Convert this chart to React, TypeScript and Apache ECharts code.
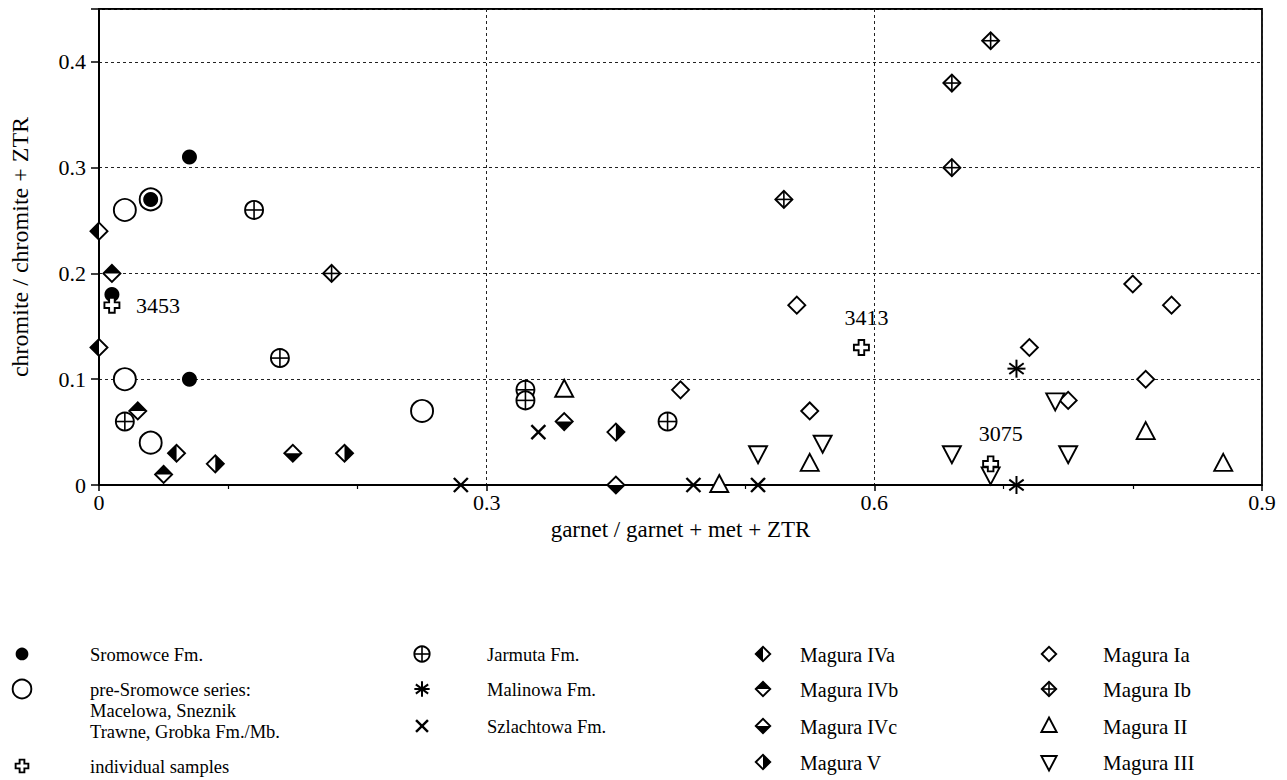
import React, { useEffect, useRef } from 'react';
import * as echarts from 'echarts';

// ---------- data (x: garnet ratio, y: chromite ratio) ----------
const sromowce = [[0.07, 0.31], [0.04, 0.27], [0.01, 0.18], [0.07, 0.10]];
const preSromowce = [[0.02, 0.26], [0.04, 0.27], [0.02, 0.10], [0.04, 0.04], [0.25, 0.07]];
const samples = [[0.01, 0.17], [0.59, 0.13], [0.69, 0.02]];
const sampleNames = ['3453', '3413', '3075'];
const jarmuta = [[0.12, 0.26], [0.14, 0.12], [0.02, 0.06], [0.33, 0.09], [0.33, 0.08], [0.44, 0.06]];
const malinowa = [[0.71, 0.11], [0.71, 0.0]];
const szlachtowa = [[0.28, 0.0], [0.34, 0.05], [0.46, 0.0], [0.51, 0.0]];
const maguraIVa = [[0.0, 0.24], [0.0, 0.13], [0.06, 0.03]];
const maguraIVb = [[0.01, 0.20], [0.03, 0.07], [0.05, 0.01]];
const maguraIVc = [[0.15, 0.03], [0.36, 0.06], [0.40, 0.0]];
const maguraV = [[0.09, 0.02], [0.19, 0.03], [0.40, 0.05]];
const maguraIa = [[0.45, 0.09], [0.54, 0.17], [0.55, 0.07], [0.72, 0.13], [0.75, 0.08], [0.80, 0.19], [0.83, 0.17], [0.81, 0.10]];
const maguraIb = [[0.69, 0.42], [0.66, 0.38], [0.66, 0.30], [0.53, 0.27], [0.18, 0.20]];
const maguraII = [[0.36, 0.09], [0.48, 0.0], [0.55, 0.02], [0.81, 0.05], [0.87, 0.02]];
const maguraIII = [[0.51, 0.03], [0.56, 0.04], [0.66, 0.03], [0.69, 0.01], [0.74, 0.08], [0.75, 0.03]];

const xTicks = { min: 0, max: 0.9, interval: 0.3 };
const yTicks = { min: 0, max: 0.45, interval: 0.1 };

// label placement of individual sample numbers (style, not data)
const sampleLabelStyle = [
  { dx: 24, dy: 0, align: 'left' },
  { dx: 5, dy: -30, align: 'center' },
  { dx: 10, dy: -30, align: 'center' },
];

const FONT = '"Liberation Serif", "Times New Roman", serif';
const LW = 1.9;

function sym(kind: string, cx: number, cy: number, k = 1): any[] {
  const white = { fill: '#fff', stroke: '#000', lineWidth: LW };
  const r = 8.5 * k;
  const dia = [[cx - r, cy], [cx, cy - r], [cx + r, cy], [cx, cy + r]];
  const ln = (x1: number, y1: number, x2: number, y2: number, w = LW) => ({
    type: 'line', shape: { x1, y1, x2, y2 }, style: { stroke: '#000', lineWidth: w },
  });
  const halfDia = (pts: number[][]) => [
    { type: 'polygon', shape: { points: dia }, style: { fill: '#fff' } },
    { type: 'polygon', shape: { points: pts }, style: { fill: '#000' } },
    { type: 'polygon', shape: { points: dia }, style: { fill: 'none', stroke: '#000', lineWidth: LW } },
  ];
  switch (kind) {
    case 'filled':
      return [{ type: 'circle', shape: { cx, cy, r: 7.5 * k }, style: { fill: '#000' } }];
    case 'open':
      return [{ type: 'circle', shape: { cx, cy, r: 11 * k }, style: white }];
    case 'cplus': {
      const R = 9 * k;
      return [
        { type: 'circle', shape: { cx, cy, r: R }, style: white },
        ln(cx - R, cy, cx + R, cy, 1.6),
        ln(cx, cy - R, cx, cy + R, 1.6),
      ];
    }
    case 'cross': {
      const a = 2.8 * k, b = 7.5 * k;
      const p = [[-a, -b], [a, -b], [a, -a], [b, -a], [b, a], [a, a], [a, b], [-a, b], [-a, a], [-b, a], [-b, -a], [-a, -a]];
      return [{ type: 'polygon', shape: { points: p.map(([x, y]) => [cx + x, cy + y]) }, style: white }];
    }
    case 'aster': {
      const R = 9 * k, dx = R * 0.8, dy = R * 0.6;
      return [
        ln(cx, cy - R, cx, cy + R, 2),
        ln(cx - R, cy, cx + R, cy, 2),
        ln(cx - dx, cy - dy, cx + dx, cy + dy, 2),
        ln(cx - dx, cy + dy, cx + dx, cy - dy, 2),
      ];
    }
    case 'x': {
      const R = 7 * k;
      return [ln(cx - R, cy - R, cx + R, cy + R, 2.4), ln(cx - R, cy + R, cx + R, cy - R, 2.4)];
    }
    case 'IVa':
      return halfDia([[cx, cy - r], [cx - r, cy], [cx, cy + r]]);
    case 'IVb':
      return halfDia([[cx - r, cy], [cx, cy - r], [cx + r, cy]]);
    case 'IVc':
      return halfDia([[cx - r, cy], [cx, cy + r], [cx + r, cy]]);
    case 'V':
      return halfDia([[cx, cy - r], [cx + r, cy], [cx, cy + r]]);
    case 'Ia':
      return [{ type: 'polygon', shape: { points: dia }, style: white }];
    case 'Ib':
      return [
        { type: 'polygon', shape: { points: dia }, style: white },
        ln(cx - r, cy, cx + r, cy, 1.6),
        ln(cx, cy - r, cx, cy + r, 1.6),
      ];
    case 'II': {
      const R = 10 * k;
      return [{ type: 'polygon', shape: { points: [[cx, cy - R], [cx + 0.9 * R, cy + 0.7 * R], [cx - 0.9 * R, cy + 0.7 * R]] }, style: white }];
    }
    case 'III': {
      const R = 10 * k;
      return [{ type: 'polygon', shape: { points: [[cx, cy + R], [cx + 0.9 * R, cy - 0.7 * R], [cx - 0.9 * R, cy - 0.7 * R]] }, style: white }];
    }
  }
  return [];
}

const seriesDefs: { name: string; kind: string; data: number[][] }[] = [
  { name: 'pre-Sromowce series', kind: 'open', data: preSromowce },
  { name: 'Sromowce Fm.', kind: 'filled', data: sromowce },
  { name: 'Jarmuta Fm.', kind: 'cplus', data: jarmuta },
  { name: 'Malinowa Fm.', kind: 'aster', data: malinowa },
  { name: 'Szlachtowa Fm.', kind: 'x', data: szlachtowa },
  { name: 'Magura IVa', kind: 'IVa', data: maguraIVa },
  { name: 'Magura IVb', kind: 'IVb', data: maguraIVb },
  { name: 'Magura IVc', kind: 'IVc', data: maguraIVc },
  { name: 'Magura V', kind: 'V', data: maguraV },
  { name: 'Magura Ia', kind: 'Ia', data: maguraIa },
  { name: 'Magura Ib', kind: 'Ib', data: maguraIb },
  { name: 'Magura II', kind: 'II', data: maguraII },
  { name: 'Magura III', kind: 'III', data: maguraIII },
];

// legend layout
const legendCols = [
  { symX: 22, textX: 90, size: 18.5, items: [
    { kind: 'filled', text: 'Sromowce Fm.', y: 655 },
    { kind: 'open', text: 'pre-Sromowce series:\nMacelowa, Sneznik\nTrawne, Grobka Fm./Mb.', y: 690 },
    { kind: 'cross', text: 'individual samples', y: 767 },
  ] },
  { symX: 422, textX: 487, size: 18.5, items: [
    { kind: 'cplus', text: 'Jarmuta Fm.', y: 655 },
    { kind: 'aster', text: 'Malinowa Fm.', y: 690 },
    { kind: 'x', text: 'Szlachtowa Fm.', y: 727 },
  ] },
  { symX: 763, textX: 800, size: 20, items: [
    { kind: 'IVa', text: 'Magura IVa', y: 655 },
    { kind: 'IVb', text: 'Magura IVb', y: 690 },
    { kind: 'IVc', text: 'Magura IVc', y: 727 },
    { kind: 'V', text: 'Magura V', y: 763 },
  ] },
  { symX: 1049, textX: 1103, size: 21, items: [
    { kind: 'Ia', text: 'Magura Ia', y: 655 },
    { kind: 'Ib', text: 'Magura Ib', y: 690 },
    { kind: 'II', text: 'Magura II', y: 727 },
    { kind: 'III', text: 'Magura III', y: 763 },
  ] },
];

function buildLegend(): any[] {
  const els: any[] = [];
  legendCols.forEach((col) => {
    col.items.forEach((it) => {
      els.push({ type: 'group', silent: true, children: sym(it.kind, col.symX, it.y - 1, 0.85) });
      const multi = it.text.indexOf('\n') >= 0;
      els.push({
        type: 'text', silent: true,
        x: col.textX, y: multi ? it.y - 11 : it.y,
        style: {
          text: it.text, fill: '#000', font: `${col.size}px ${FONT}`, lineHeight: 21,
          textAlign: 'left', textVerticalAlign: multi ? 'top' : 'middle',
        },
      });
    });
  });
  return els;
}

export default function App() {
  const ref = useRef<HTMLDivElement>(null);
  useEffect(() => {
    if (!ref.current) return;
    const chart = echarts.init(ref.current, undefined, { renderer: 'svg' });
    const series: any[] = seriesDefs.map((d) => ({
      type: 'custom', name: d.name, data: d.data, clip: false,
      renderItem: (_p: any, api: any) => {
        const c = api.coord([api.value(0), api.value(1)]);
        return { type: 'group', children: sym(d.kind, c[0], c[1]) };
      },
    }));
    series.push({
      type: 'custom', name: 'individual samples', clip: false,
      data: samples.map((s, i) => [s[0], s[1], i]),
      renderItem: (_p: any, api: any) => {
        const c = api.coord([api.value(0), api.value(1)]);
        const i = api.value(2);
        const ls = sampleLabelStyle[i];
        return {
          type: 'group',
          children: [
            ...sym('cross', c[0], c[1]),
            {
              type: 'text',
              style: {
                text: sampleNames[i], x: c[0] + ls.dx, y: c[1] + ls.dy,
                textAlign: ls.align, textVerticalAlign: 'middle',
                font: `22px ${FONT}`, fill: '#000',
              },
            },
          ],
        };
      },
    });
    const labelStyle = { color: '#000', fontFamily: FONT, fontSize: 22 };
    chart.setOption({
      animation: false,
      backgroundColor: '#fff',
      grid: { left: 98, right: 25, top: 9, bottom: 295, show: true, borderColor: '#000', borderWidth: 1.8 },
      xAxis: {
        type: 'value', min: xTicks.min, max: xTicks.max, interval: xTicks.interval,
        name: 'garnet / garnet + met + ZTR', nameLocation: 'middle', nameGap: 23,
        nameTextStyle: { color: '#000', fontFamily: FONT, fontSize: 23 },
        axisLine: { show: true, lineStyle: { color: '#000', width: 2 } },
        axisTick: { show: true, length: 6, lineStyle: { color: '#000', width: 1.5 } },
        minorTick: { show: true, splitNumber: 3, length: 4, lineStyle: { color: '#000', width: 1.2 } },
        axisLabel: { ...labelStyle, margin: 6, formatter: (v: number) => String(+v.toFixed(1)) },
        splitLine: { show: true, lineStyle: { color: '#222', width: 1, type: [3, 3] } },
      },
      yAxis: {
        type: 'value', min: yTicks.min, max: yTicks.max, interval: yTicks.interval,
        name: 'chromite / chromite + ZTR', nameLocation: 'middle', nameGap: 67,
        nameTextStyle: { color: '#000', fontFamily: FONT, fontSize: 24 },
        axisLine: { show: true, lineStyle: { color: '#000', width: 2 } },
        axisTick: { show: true, length: 8, lineStyle: { color: '#000', width: 1.5 } },
        axisLabel: {
          ...labelStyle, margin: 13,
          formatter: (v: number) => (v > 0.41 ? '' : String(+v.toFixed(1))),
        },
        splitLine: { show: true, lineStyle: { color: '#222', width: 1, type: [3, 3] } },
      },
      graphic: { elements: buildLegend() },
      series,
    });
    return () => chart.dispose();
  }, []);
  return <div ref={ref} style={{ position: 'absolute', left: 0, top: 0, width: 1287, height: 780 }} />;
}
